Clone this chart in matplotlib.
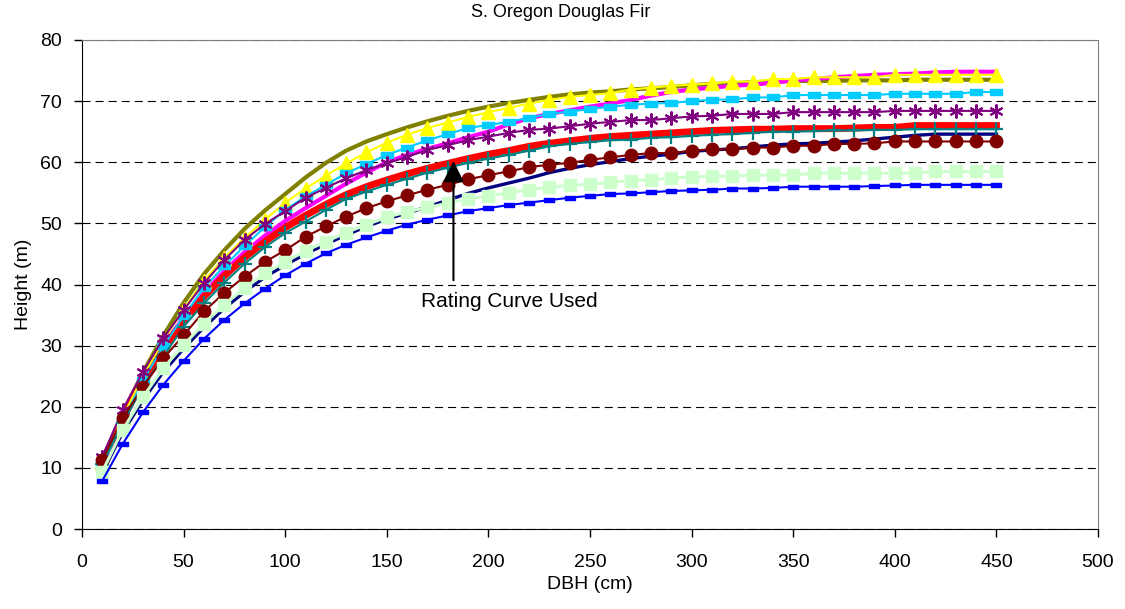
import numpy as np
import matplotlib
matplotlib.use("Agg")
import matplotlib.pyplot as plt

plt.rcParams['font.family'] = ['Liberation Sans', 'DejaVu Sans']
plt.rcParams['lines.scale_dashes'] = False

# DBH (cm)
dbh = [10, 20, 30, 40, 50, 60, 70, 80, 90, 100,
       110, 120, 130, 140, 150, 160, 170, 180, 190, 200,
       210, 220, 230, 240, 250, 260, 270, 280, 290, 300,
       310, 320, 330, 340, 350, 360, 370, 380, 390, 400,
       410, 420, 430, 440, 450]

# heights (m), one list per curve
olive = [11.3, 18.8, 25.6, 31.6, 37.0, 41.7, 45.6, 49.1, 52.1, 54.8,
         57.5, 59.9, 61.9, 63.4, 64.6, 65.7, 66.7, 67.6, 68.4, 69.1,
         69.7, 70.2, 70.7, 71.1, 71.4, 71.6, 71.9, 72.1, 72.3, 72.6,
         72.8, 72.9, 73.1, 73.2, 73.3, 73.3, 73.3, 73.4, 73.4, 73.4,
         73.5, 73.5, 73.5, 73.5, 73.5]
magenta = [11.0, 18.3, 24.6, 30.0, 34.6, 38.6, 42.2, 45.3, 48.0, 50.4,
           52.5, 54.5, 56.5, 58.3, 60.0, 61.2, 62.2, 63.1, 64.1, 65.0,
           66.2, 67.2, 67.9, 68.5, 69.1, 69.6, 70.2, 70.9, 71.5, 71.9,
           72.2, 72.5, 72.7, 73.0, 73.4, 73.6, 73.9, 74.1, 74.3, 74.4,
           74.5, 74.7, 74.8, 74.8, 74.8]
red = [11.0, 18.0, 24.3, 29.5, 34.0, 38.0, 41.4, 44.4, 47.0, 49.3,
       51.3, 53.1, 54.7, 56.0, 57.1, 58.1, 59.0, 59.8, 60.6, 61.3,
       61.9, 62.6, 63.1, 63.5, 63.9, 64.2, 64.4, 64.6, 64.8, 65.0,
       65.2, 65.3, 65.4, 65.4, 65.5, 65.5, 65.5, 65.6, 65.7, 65.7,
       66.0, 66.0, 66.0, 66.0, 66.0]
navy = [9.2, 15.8, 21.1, 25.7, 29.5, 33.0, 36.1, 38.8, 41.2, 43.2,
        45.0, 46.6, 48.1, 49.5, 50.7, 51.7, 52.7, 53.8, 54.9, 55.8,
        56.6, 57.4, 58.3, 59.0, 59.6, 60.1, 60.6, 61.0, 61.3, 61.8,
        62.0, 62.2, 62.5, 62.8, 63.0, 63.1, 63.3, 63.5, 63.8, 64.1,
        64.4, 64.6, 64.6, 64.6, 64.6]
yellow = [11.0, 18.3, 25.0, 30.8, 36.0, 40.6, 44.4, 47.6, 50.6, 53.4,
          55.7, 57.8, 59.8, 61.6, 63.2, 64.5, 65.6, 66.5, 67.4, 68.2,
          68.9, 69.6, 70.2, 70.7, 71.0, 71.3, 71.9, 72.2, 72.5, 72.7,
          72.9, 73.2, 73.2, 73.6, 73.6, 73.9, 73.9, 73.9, 73.9, 74.3,
          74.3, 74.3, 74.3, 74.3, 74.3]
cyan = [10.2, 17.6, 24.3, 29.9, 34.8, 39.5, 43.0, 46.3, 49.4, 52.2,
        54.4, 56.3, 58.2, 59.7, 61.2, 62.4, 63.6, 64.6, 65.6, 66.1,
        66.6, 67.3, 67.9, 68.3, 68.7, 69.1, 69.4, 69.6, 69.7, 70.0,
        70.2, 70.3, 70.6, 70.6, 71.0, 71.0, 71.0, 71.0, 71.0, 71.2,
        71.2, 71.2, 71.2, 71.5, 71.5]
purple = [11.8, 19.5, 25.7, 31.2, 35.8, 40.2, 44.0, 47.3, 49.9, 52.0,
          54.2, 55.8, 57.4, 58.7, 59.8, 60.9, 62.0, 62.8, 63.6, 64.2,
          64.8, 65.3, 65.5, 65.9, 66.3, 66.6, 66.9, 66.9, 67.2, 67.5,
          67.6, 67.9, 67.9, 67.9, 68.2, 68.2, 68.2, 68.2, 68.2, 68.4,
          68.4, 68.4, 68.4, 68.4, 68.4]
teal = [10.7, 17.3, 23.3, 28.2, 33.1, 36.9, 40.3, 43.4, 46.1, 48.4,
        50.3, 52.2, 54.0, 55.2, 56.3, 57.3, 58.3, 59.1, 59.9, 60.6,
        61.2, 61.9, 62.6, 63.0, 63.3, 63.6, 63.7, 64.0, 64.1, 64.3,
        64.5, 64.6, 64.8, 65.0, 65.0, 65.1, 65.2, 65.2, 65.3, 65.3,
        65.4, 65.4, 65.4, 65.4, 65.4]
maroon = [11.3, 18.1, 23.3, 27.9, 31.7, 35.6, 38.6, 41.3, 43.7, 45.6,
          47.8, 49.5, 51.1, 52.5, 53.6, 54.6, 55.5, 56.3, 57.2, 57.9,
          58.5, 59.2, 59.6, 59.9, 60.4, 60.8, 61.2, 61.5, 61.5, 61.9,
          62.1, 62.1, 62.4, 62.4, 62.7, 62.7, 63.0, 63.0, 63.1, 63.4,
          63.4, 63.4, 63.4, 63.4, 63.4]
palegreen = [9.4, 16.2, 21.6, 26.3, 30.1, 33.6, 36.7, 39.4, 41.8, 43.7,
             45.5, 47.0, 48.5, 49.8, 51.0, 51.9, 52.6, 53.3, 54.0, 54.5,
             55.0, 55.5, 55.9, 56.2, 56.4, 56.7, 57.0, 57.1, 57.4, 57.6,
             57.7, 57.7, 57.9, 57.9, 57.9, 58.2, 58.2, 58.2, 58.2, 58.2,
             58.2, 58.5, 58.5, 58.5, 58.5]
blue = [7.9, 13.9, 19.1, 23.6, 27.5, 31.1, 34.2, 36.9, 39.3, 41.5,
        43.4, 45.1, 46.5, 47.7, 48.8, 49.8, 50.6, 51.3, 52.0, 52.5,
        53.0, 53.4, 53.8, 54.2, 54.5, 54.8, 54.9, 55.1, 55.3, 55.4,
        55.5, 55.7, 55.7, 55.8, 56.0, 56.0, 56.0, 56.0, 56.1, 56.2,
        56.3, 56.3, 56.3, 56.3, 56.3]

# flat bar marker like Excel's dash marker
bar = [(-1, -0.45), (1, -0.45), (1, 0.45), (-1, 0.45), (-1, -0.45)]

fig = plt.figure(figsize=(11.25, 6.09), dpi=100)
ax = fig.add_axes([82 / 1125, 80 / 609, 1016 / 1125, 489 / 609])

ax.plot(dbh, olive, color='#808000', lw=3.0)
ax.plot(dbh, magenta, color='#FF00FF', lw=3.0)
ax.plot(dbh, red, color='#FF0000', lw=5.0)
ax.plot(dbh, navy, color='#000080', lw=2.4)
ax.plot(dbh, yellow, color='#FFFF00', lw=1.5, marker='^', ms=9.5, mfc='#FFFF00', mec='#FFFF00')
ax.plot(dbh, cyan, color='#00CCFF', lw=1.5, marker=bar, ms=8.5, mfc='#00CCFF', mec='#00CCFF')
ax.plot(dbh, purple, color='#800080', lw=1.5, marker=(6, 2, 0), ms=10, mec='#800080', mew=1.5)
ax.plot(dbh, teal, color='#008080', lw=1.5, marker='+', ms=10, mec='#008080', mew=1.6)
ax.plot(dbh, maroon, color='#800000', lw=1.5, marker='o', ms=9, mfc='#800000', mec='#800000')
ax.plot(dbh, palegreen, color='#CCFFCC', lw=2.2, marker='s', ms=9, mfc='#CCFFCC', mec='#CCFFCC')
ax.plot(dbh, blue, color='#0000FF', lw=1.5, marker=bar, ms=6.5, mfc='#0000FF', mec='#0000FF')

ax.annotate('', xy=(182.8, 60.2), xytext=(182.8, 40.7),
            arrowprops=dict(arrowstyle='-|>', color='black', lw=1.5,
                            mutation_scale=32, shrinkA=0, shrinkB=0))
ax.text(167, 37.3, 'Rating Curve Used', fontsize=15, va='center', ha='left')

ax.set_xlim(0, 500)
ax.set_ylim(0, 80)
ax.set_xticks(np.arange(0, 501, 50))
ax.set_yticks(np.arange(0, 81, 10))
ax.yaxis.grid(True, color='black', lw=0.8, linestyle=(0, (5.8, 3.6)))
ax.set_axisbelow(True)

for side in ['top', 'right']:
    ax.spines[side].set_color('#808080')
for side in ['left', 'bottom']:
    ax.spines[side].set_color('black')
ax.tick_params(direction='out', length=5.8, width=1, labelsize=14, colors='black')
ax.tick_params(axis='y', pad=8.5)
ax.tick_params(axis='x', pad=12)

ax.set_xlabel('DBH (cm)', fontsize=14, labelpad=4)
ax.set_ylabel('Height (m)', fontsize=14, labelpad=6)
fig.text(0.498, 0.98, 'S. Oregon Douglas Fir', fontsize=13, ha='center', va='center')

fig.savefig('out.png', dpi=100)
